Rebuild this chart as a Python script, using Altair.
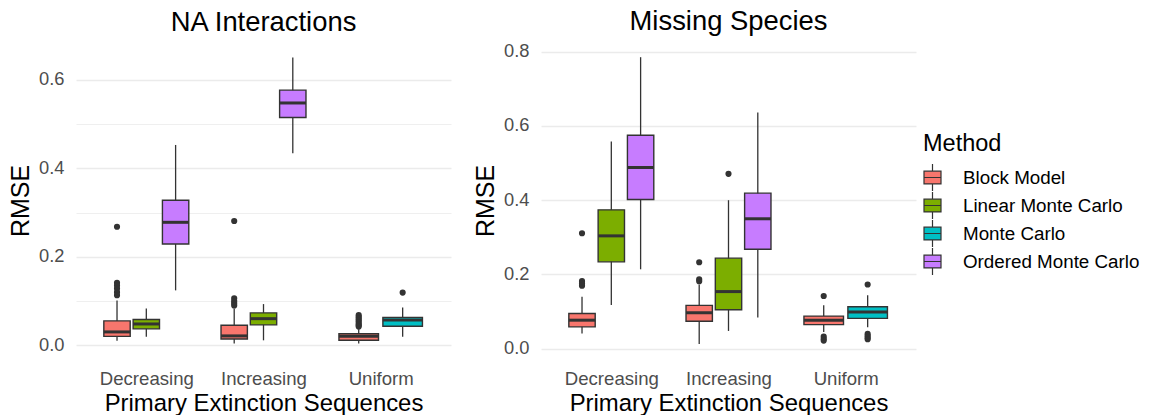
import altair as alt
import pandas as pd

FONT = "Liberation Sans"

methods = ["Block Model", "Linear Monte Carlo", "Monte Carlo", "Ordered Monte Carlo"]
method_colors = ["#F8766D", "#7CAE00", "#00BFC4", "#C77CFF"]
sequences = ["Decreasing", "Increasing", "Uniform"]

# ---- NA Interactions ----
na_seq = ["Decreasing", "Decreasing", "Decreasing", "Increasing", "Increasing", "Increasing", "Uniform", "Uniform"]
na_method = ["Block Model", "Linear Monte Carlo", "Ordered Monte Carlo",
             "Block Model", "Linear Monte Carlo", "Ordered Monte Carlo",
             "Block Model", "Monte Carlo"]
na_lower = [0.010, 0.019, 0.124, 0.004, 0.011, 0.434, 0.004, 0.019]
na_q1 = [0.020, 0.037, 0.229, 0.014, 0.046, 0.515, 0.011, 0.043]
na_median = [0.030, 0.048, 0.278, 0.021, 0.060, 0.548, 0.020, 0.057]
na_q3 = [0.055, 0.058, 0.328, 0.045, 0.073, 0.577, 0.026, 0.063]
na_upper = [0.101, 0.083, 0.453, 0.083, 0.093, 0.651, 0.036, 0.085]
na_outliers = [[0.268, 0.141, 0.135, 0.128, 0.120, 0.113], [], [],
               [0.281, 0.106, 0.100, 0.095, 0.090], [], [],
               [0.068, 0.064, 0.060, 0.056, 0.052, 0.048, 0.045, 0.042], [0.119]]

# ---- Missing Species ----
ms_seq = ["Decreasing", "Decreasing", "Decreasing", "Increasing", "Increasing", "Increasing", "Uniform", "Uniform"]
ms_method = ["Block Model", "Linear Monte Carlo", "Ordered Monte Carlo",
             "Block Model", "Linear Monte Carlo", "Ordered Monte Carlo",
             "Block Model", "Monte Carlo"]
ms_lower = [0.041, 0.118, 0.214, 0.013, 0.048, 0.084, 0.045, 0.058]
ms_q1 = [0.059, 0.234, 0.402, 0.074, 0.105, 0.268, 0.065, 0.082]
ms_median = [0.077, 0.304, 0.488, 0.097, 0.154, 0.350, 0.077, 0.099]
ms_q3 = [0.095, 0.374, 0.575, 0.117, 0.244, 0.419, 0.088, 0.113]
ms_upper = [0.140, 0.558, 0.785, 0.173, 0.400, 0.636, 0.117, 0.144]
ms_outliers = [[0.311, 0.182, 0.176, 0.170], [], [],
               [0.233, 0.187, 0.182], [0.471], [],
               [0.142, 0.033, 0.027, 0.022], [0.173, 0.040, 0.035, 0.030, 0.026]]


def build(seq, meth, lower, q1, med, q3, upper, outl):
    boxes, pts = [], []
    for i, s in enumerate(seq):
        members = [j for j, t in enumerate(seq) if t == s]
        n = len(members)
        k = members.index(i)
        slot = 0.75 / n
        xc = sequences.index(s) + 1 + (k - (n - 1) / 2) * slot
        half = 0.9 * slot / 2
        boxes.append(dict(seq=s, method=meth[i], xc=xc, x0=xc - half, x1=xc + half,
                          lower=lower[i], q1=q1[i], median=med[i], q3=q3[i], upper=upper[i]))
        for v in outl[i]:
            pts.append(dict(seq=s, method=meth[i], xc=xc, value=v))
    return pd.DataFrame(boxes), pd.DataFrame(pts)


x_label_expr = " : ".join(
    f"datum.value == {i + 1} ? '{s}'" for i, s in enumerate(sequences)) + " : ''"
legend_symbol = "M-1,-0.75H1V0.75H-1Z M-1,0H1 M0,-0.75V-1.6 M0,0.75V1.6"
major_test = "round(datum.value*10) % 2 === 0"

legend = alt.Legend(
    title="Method", orient="none", legendX=847, legendY=88.5,
    symbolType=legend_symbol, symbolSize=289,
    symbolStrokeColor="#333333", symbolStrokeWidth=1.2, symbolOpacity=1,
    labelFontSize=18.8, titleFontSize=23.5, titleFontWeight="normal",
    labelFont=FONT, titleFont=FONT, labelColor="black", titleColor="black",
    labelLimit=400, rowPadding=-5.0, labelOffset=21, titlePadding=13, padding=0)


def panel(title, box_df, pt_df, ydom, yvals):
    xs = alt.Scale(domain=[0.4, 3.6], nice=False, zero=False)
    ys = alt.Scale(domain=ydom, nice=False, zero=False)
    xaxis = alt.Axis(values=[1, 2, 3], labelExpr=x_label_expr, grid=False, ticks=False,
                     tickSize=0, domain=False, title="Primary Extinction Sequences",
                     labelPadding=11.5, titlePadding=3,
                     labelFont=FONT, titleFont=FONT, labelFontSize=18.6, titleFontSize=23.9,
                     labelColor="#4D4D4D", titleColor="black", titleFontWeight="normal")
    yaxis = alt.Axis(values=yvals,
                     labelExpr=major_test + " ? format(datum.value, '.1f') : ''",
                     grid=True, gridColor="#EBEBEB",
                     gridWidth={"condition": {"test": major_test, "value": 1.4},
                                "value": 0.8},
                     ticks=False, tickSize=0, domain=False, title="RMSE",
                     labelPadding=12, titlePadding=5,
                     labelFont=FONT, titleFont=FONT, labelFontSize=18.3, titleFontSize=25,
                     labelColor="#4D4D4D", titleColor="black", titleFontWeight="normal")
    base = alt.Chart(box_df)
    whisk = base.mark_rule(color="#333333", strokeWidth=1.3).encode(
        x=alt.X("xc:Q", scale=xs, axis=xaxis),
        y=alt.Y("lower:Q", scale=ys, axis=yaxis),
        y2="upper:Q")
    box = base.mark_rect(stroke="#333333", strokeWidth=1.4, opacity=1).encode(
        x="x0:Q", x2="x1:Q", y="q1:Q", y2="q3:Q",
        color=alt.Color("method:N", scale=alt.Scale(domain=methods, range=method_colors),
                        legend=legend))
    med = base.mark_rule(color="#333333", strokeWidth=3).encode(
        x="x0:Q", x2="x1:Q", y="median:Q")
    pts = alt.Chart(pt_df).mark_circle(color="#333333", size=38, opacity=1).encode(
        x="xc:Q", y="value:Q")
    return alt.layer(whisk, box, med, pts).properties(
        width=375, height=315,
        title=alt.TitleParams(title, fontSize=27.4, font=FONT, fontWeight="normal",
                              anchor="middle", color="black", baseline="alphabetic",
                              offset=-15.8))


na_box, na_pts = build(na_seq, na_method, na_lower, na_q1, na_median, na_q3, na_upper, na_outliers)
ms_box, ms_pts = build(ms_seq, ms_method, ms_lower, ms_q1, ms_median, ms_q3, ms_upper, ms_outliers)

left = panel("NA Interactions", na_box, na_pts, [-0.029, 0.6837],
             [0, 0.1, 0.2, 0.3, 0.4, 0.5, 0.6])
right = panel("Missing Species", ms_box, ms_pts, [-0.0248, 0.8232],
              [0, 0.1, 0.2, 0.3, 0.4, 0.5, 0.6, 0.7, 0.8])

chart = alt.hconcat(left, right, spacing=22).properties(
    padding={"left": 0, "top": 0, "right": 0, "bottom": 0},
    background="white"
).configure_view(stroke=None)

chart.save("out.html", embed_options={"renderer": "svg", "actions": False})
